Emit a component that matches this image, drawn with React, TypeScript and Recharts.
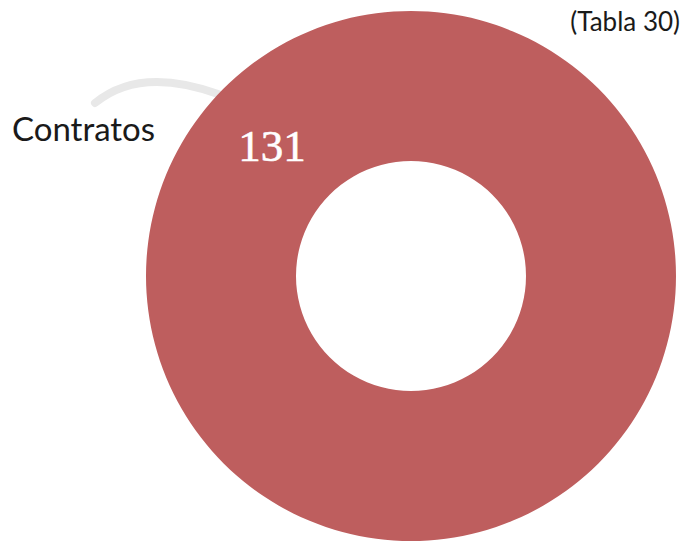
import React from "react";
import { PieChart, Pie, Cell, Customized } from "recharts";

const categories = ["Contratos"];
const values = [131];
const title = "(Tabla 30)";

const data = categories.map((name, i) => ({ name, value: values[i] }));

const RED = "#BE5E5E";
const RAD = Math.PI / 180;

const renderLabel = (props: any) => {
  const { cx, cy, innerRadius, outerRadius, value } = props;
  const r = (innerRadius + outerRadius) / 2;
  const angle = 137;
  const x = cx + r * Math.cos(angle * RAD);
  const y = cy - r * Math.sin(angle * RAD);
  return (
    <text
      x={x}
      y={y + 15}
      textAnchor="middle"
      fill="#ffffff"
      fontFamily="'Liberation Serif', serif"
      fontSize={45}
      stroke="#ffffff"
      strokeWidth={0.6}
    >
      {value}
    </text>
  );
};

const Decor = () => (
  <g>
    <path d="M95,103 Q140,66 218,94" fill="none" stroke="#e8e8e8" strokeWidth={8} strokeLinecap="round" />
    <text x={12} y={141} fontFamily="Lato, sans-serif" fontSize={33} fill="#1a1a1a">
      {categories[0]}
    </text>
    <text x={680} y={31} textAnchor="end" fontFamily="Lato, sans-serif" fontSize={26} fill="#1a1a1a">
      {title}
    </text>
  </g>
);

export default function App() {
  return (
    <div style={{ position: "absolute", left: 0, top: 0, width: 683, height: 541, background: "#fff" }}>
      <PieChart width={683} height={541} margin={{ top: 0, right: 0, bottom: 0, left: 0 }}>
        <Customized component={Decor} />
        <Pie
          data={data}
          dataKey="value"
          nameKey="name"
          cx={411}
          cy={276}
          innerRadius={115}
          outerRadius={265}
          startAngle={90}
          endAngle={-270}
          stroke="none"
          labelLine={false}
          label={renderLabel}
          isAnimationActive={false}
        >
          {data.map((d) => (
            <Cell key={d.name} fill={RED} />
          ))}
        </Pie>
      </PieChart>
    </div>
  );
}
